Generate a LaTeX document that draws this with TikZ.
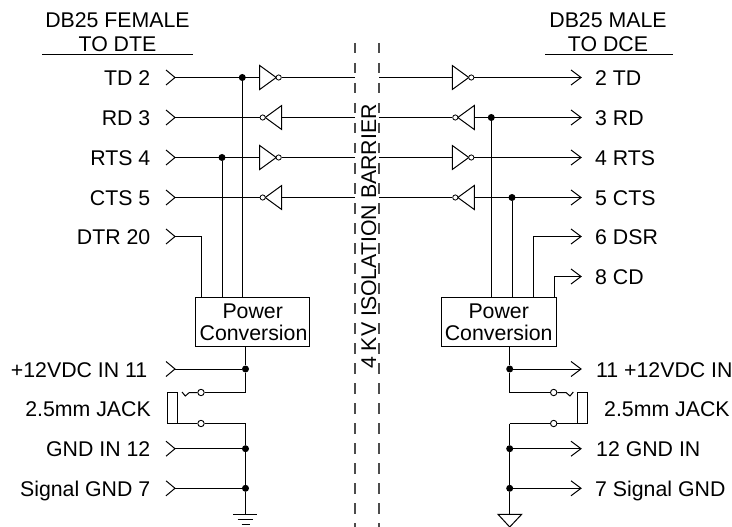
\documentclass[tikz,border=0pt]{standalone}
\usepackage{fontspec}
\setmainfont{Liberation Sans}
\tikzset{
  x=1pt,y=-1pt,
  wire/.style={line width=1pt,line cap=butt},
  lbl/.style={inner sep=0pt,font=\fontsize{21.3}{24}\selectfont,text=black},
  lblL/.style={lbl,anchor=base east},
  lblR/.style={lbl,anchor=base west},
  lblC/.style={lbl,anchor=base},
  jdot/.style={circle,fill=black,draw=none,minimum size=7pt,inner sep=0pt},
  bub/.style={circle,fill=white,draw=black,line width=0.8pt,minimum size=5.2pt,inner sep=0pt},
  jbub/.style={circle,fill=white,draw=black,line width=0.9pt,minimum size=6.4pt,inner sep=0pt},
  pconv/.style={draw=black,line width=1pt,fill=none,inner sep=0pt},
  barrier/.style={line width=1.2pt,draw=black!70,dash pattern=on 10.5pt off 9.5pt},
}
% inverter: name, x, y; pointing right
\newcommand{\invR}[3]{%
  \coordinate (#1in) at (#2,#3);
  \draw[wire] (#2,#3-12) -- (#2,#3+12) -- (#2+16.5,#3) -- cycle;
  \node[bub] (#1) at (#2+19,#3) {};
}
% inverter pointing left; x is the base of the triangle
\newcommand{\invL}[3]{%
  \coordinate (#1in) at (#2,#3);
  \draw[wire] (#2,#3-12) -- (#2,#3+12) -- (#2-16.5,#3) -- cycle;
  \node[bub] (#1) at (#2-19,#3) {};
}
% open chevron on the left side
\newcommand{\chevL}[2]{%
  \coordinate (#1) at (175,#2);
  \draw[wire] (166,#2-7.5) -- (#1) -- (166,#2+7.5);
}
% open arrowhead on the right side
\newcommand{\chevR}[2]{%
  \coordinate (#1) at (581,#2);
  \draw[wire] (571,#2-7.5) -- (#1) -- (571,#2+7.5);
}
\begin{document}
\begin{tikzpicture}
\useasboundingbox (0,0) rectangle (732,527);
% titles
\node[lblC] (t1) at (117.5,28) {DB25 FEMALE};
\node[lblC] (t2) at (117.5,52) {TO DTE};
\node[lblC] (t3) at (608,28) {DB25 MALE};
\node[lblC] (t4) at (608,52) {TO DCE};
\coordinate (u1a) at (42,54.7); \coordinate (u1b) at (192.7,54.7);
\coordinate (u2a) at (545,54.7); \coordinate (u2b) at (672.7,54.7);
\draw[wire] (u1a) -- (u1b);
\draw[wire] (u2a) -- (u2b);
% barrier
\coordinate (bl1) at (355,43); \coordinate (bl2) at (355,527);
\coordinate (br1) at (379,43); \coordinate (br2) at (379,527);
\draw[barrier] (bl1) -- (bl2);
\draw[barrier] (br1) -- (br2);
\node[lbl,anchor=base,rotate=90] (bar) at (376,236.5) {4 KV ISOLATION BARRIER};
% left labels
\node[lblL] (lTD) at (150.5,85.5) {TD 2};
\node[lblL] (lRD) at (150.5,125) {RD 3};
\node[lblL] (lRTS) at (150.5,165) {RTS 4};
\node[lblL] (lCTS) at (150.5,205) {CTS 5};
\node[lblL] (lDTR) at (150.5,244.5) {DTR 20};
\node[lblL] (lV) at (147.5,377) {+12VDC IN 11};
\node[lblL] (lJ) at (151,416) {2.5mm JACK};
\node[lblL] (lG) at (150.5,456.5) {GND IN 12};
\node[lblL] (lS) at (150.5,496) {Signal GND 7};
% right labels
\node[lblR] (rTD) at (595,85.5) {2 TD};
\node[lblR] (rRD) at (595,125) {3 RD};
\node[lblR] (rRTS) at (595,165) {4 RTS};
\node[lblR] (rCTS) at (595,205) {5 CTS};
\node[lblR] (rDSR) at (595,244.5) {6 DSR};
\node[lblR] (rCD) at (595,284.5) {8 CD};
\node[lblR] (rV) at (596,377) {11 +12VDC IN};
\node[lblR] (rJ) at (604,416) {2.5mm JACK};
\node[lblR] (rG) at (596,456.5) {12 GND IN};
\node[lblR] (rS) at (595,496) {7 Signal GND};
% boxes
\node[pconv,minimum width=114.7pt,minimum height=49.7pt] (pl) at (252.35,321.85) {};
\node[pconv,minimum width=115pt,minimum height=49.7pt] (pr) at (499.2,321.85) {};
\node[lblC] (pl1) at (252.7,318) {Power};
\node[lblC] (pl2) at (253.5,340.7) {Conversion};
\node[lblC] (pr1) at (498.7,318) {Power};
\node[lblC] (pr2) at (498.7,340.7) {Conversion};
% chevrons
\chevL{cTD}{77.5}\chevL{cRD}{117.5}\chevL{cRTS}{157.5}\chevL{cCTS}{197.5}\chevL{cDTR}{236.5}
\chevL{cV}{369}\chevL{cG}{448.7}\chevL{cS}{488.3}
\chevR{aTD}{77.5}\chevR{aRD}{117.5}\chevR{aRTS}{157.5}\chevR{aCTS}{197.5}\chevR{aDSR}{236.5}\chevR{aCD}{276.5}
\chevR{aV}{369}\chevR{aG}{448.7}\chevR{aS}{488.3}
% barrier side terminals
\foreach \n/\y in {TD/77.5,RD/117.5,RTS/157.5,CTS/197.5}{
  \coordinate (bL\n) at (355,\y);
  \coordinate (bR\n) at (379,\y);
}
% left inverters and their wires
\invR{i1}{259.7}{77.5}
\invL{i2}{281.7}{117.5}
\invR{i3}{259.7}{157.5}
\invL{i4}{281.7}{197.5}
\draw[wire] (cTD) -- (i1in); \draw[wire] (i1) -- (bLTD);
\draw[wire] (cRD) -- (i2); \draw[wire] (i2in) -- (bLRD);
\draw[wire] (cRTS) -- (i3in); \draw[wire] (i3) -- (bLRTS);
\draw[wire] (cCTS) -- (i4); \draw[wire] (i4in) -- (bLCTS);
% right inverters and their wires
\invR{j1}{452.3}{77.5}
\invL{j2}{474.3}{117.5}
\invR{j3}{452.3}{157.5}
\invL{j4}{474.3}{197.5}
\draw[wire] (bRTD) -- (j1in); \draw[wire] (j1) -- (aTD);
\draw[wire] (bRRD) -- (j2); \draw[wire] (j2in) -- (aRD);
\draw[wire] (bRRTS) -- (j3in); \draw[wire] (j3) -- (aRTS);
\draw[wire] (bRCTS) -- (j4); \draw[wire] (j4in) -- (aCTS);
% left junctions to the power box
\node[jdot] (d1) at (242.3,77.5) {};
\node[jdot] (d2) at (222,157.5) {};
\coordinate (pl1t) at (242.3,297); \coordinate (pl2t) at (222,297); \coordinate (pl3t) at (201,297);
\coordinate (kDTR) at (201,236.5);
\draw[wire] (d1) -- (pl1t);
\draw[wire] (d2) -- (pl2t);
\draw[wire] (cDTR) -- (kDTR) -- (pl3t);
% right junctions to the power box
\node[jdot] (d3) at (491.3,117.5) {};
\node[jdot] (d4) at (512,197.5) {};
\coordinate (pr1t) at (491.3,297); \coordinate (pr2t) at (512,297); \coordinate (pr3t) at (533.7,297); \coordinate (pr4t) at (554,297);
\coordinate (kDSR) at (533.7,236.5); \coordinate (kCD) at (554,276.5);
\draw[wire] (d3) -- (pr1t);
\draw[wire] (d4) -- (pr2t);
\draw[wire] (aDSR) -- (kDSR) -- (pr3t);
\draw[wire] (aCD) -- (kCD) -- (pr4t);
% left lower part
\coordinate (plb) at (245.5,346.7);
\node[jdot] (d5) at (245.5,369) {};
\coordinate (k1) at (245.5,392.5);
\coordinate (k2) at (245.5,423.5);
\node[jdot] (d6) at (245.5,448.7) {};
\node[jdot] (d7) at (245.5,488.3) {};
\coordinate (gl) at (245.5,514);
\draw[wire] (plb) -- (d5) -- (k1);
\draw[wire] (k2) -- (d6) -- (d7) -- (gl);
\draw[wire] (cV) -- (d5);
\draw[wire] (cG) -- (d6);
\draw[wire] (cS) -- (d7);
\coordinate (jl) at (177.8,423.5);
\draw[wire] (167.5,392.5) rectangle (177.8,423.5);
\node[jbub] (b1) at (201,392.5) {};
\node[jbub] (b2) at (201,423.5) {};
\draw[wire] (k1) -- (b1);
\draw[wire] (k2) -- (b2) -- (jl);
\draw[wire] (182,392) -- (185.3,396) -- (189.3,392.5) -- (b1);
% left ground
\draw[wire] (233.3,514) -- (257.3,514);
\draw[wire] (237.7,519) -- (253.3,519);
\draw[wire] (241.7,524) -- (250,524);
% right lower part
\coordinate (prb) at (509.7,346.7);
\node[jdot] (d8) at (509.7,369) {};
\coordinate (k3) at (509.7,392.5);
\coordinate (k4) at (509.7,423.5);
\node[jdot] (d9) at (509.7,448.7) {};
\node[jdot] (d10) at (509.7,488.3) {};
\coordinate (gr) at (509.7,514.3);
\draw[wire] (prb) -- (d8) -- (k3);
\draw[wire] (k4) -- (d9) -- (d10) -- (gr);
\draw[wire] (d8) -- (aV);
\draw[wire] (d9) -- (aG);
\draw[wire] (d10) -- (aS);
\coordinate (jr) at (577.3,423.5);
\draw[wire] (577.3,392.5) rectangle (587.3,423.5);
\node[jbub] (b3) at (553.7,392.5) {};
\node[jbub] (b4) at (553.7,423.5) {};
\draw[wire] (k3) -- (b3);
\draw[wire] (k4) -- (b4) -- (jr);
\draw[wire] (b3) -- (566,392.5) -- (570,396) -- (573.3,392);
% right ground
\draw[wire] (498,514.3) -- (521.7,514.3) -- (509.7,527) -- cycle;
\end{tikzpicture}
\end{document}
